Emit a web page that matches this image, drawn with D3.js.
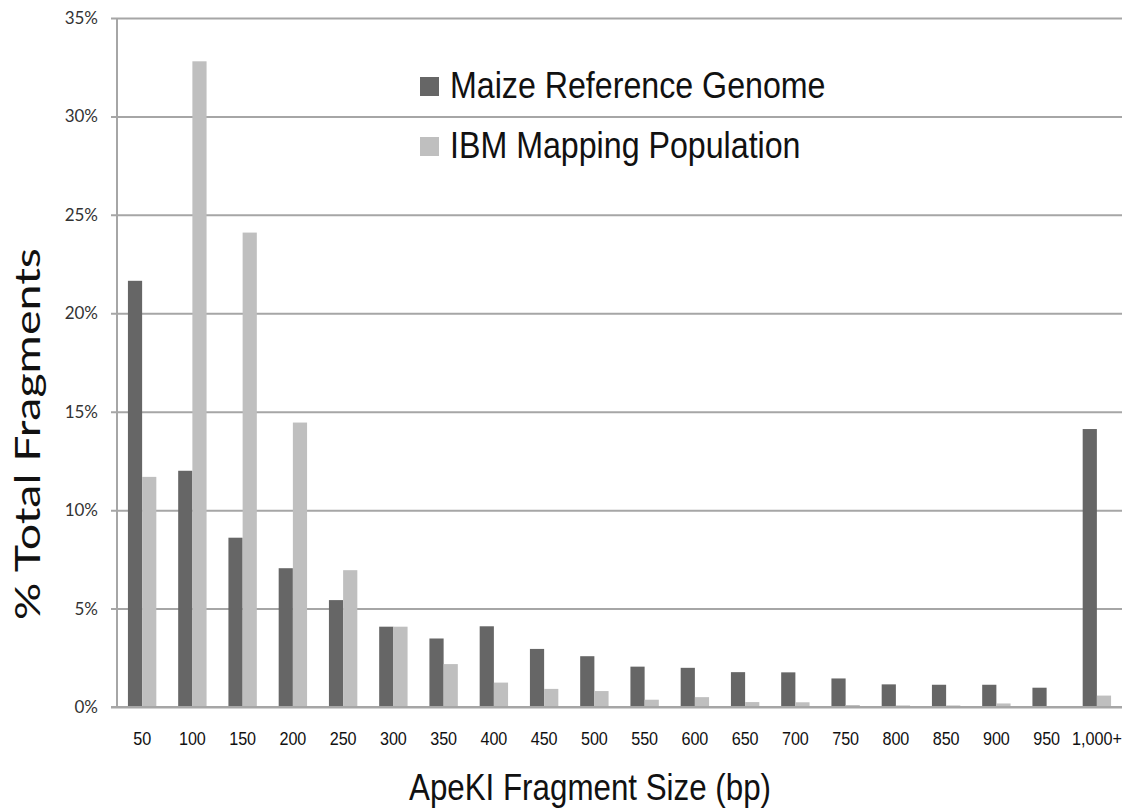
<!DOCTYPE html>
<html>
<head>
<meta charset="utf-8">
<script src="https://cdn.jsdelivr.net/npm/d3@7"></script>
<style>
  html, body { margin: 0; padding: 0; background: #ffffff; }
  svg { display: block; }
</style>
</head>
<body>
<svg id="chart" width="1130" height="809"></svg>
<script>
// ---- data ----
const categories = ["50","100","150","200","250","300","350","400","450","500","550","600","650","700","750","800","850","900","950","1,000+"];
const seriesNames = ["Maize Reference Genome", "IBM Mapping Population"];
const maizeValues = [21.65, 12.0, 8.6, 7.05, 5.43, 4.08, 3.48, 4.1, 2.95, 2.58, 2.05, 1.99, 1.77, 1.76, 1.45, 1.15, 1.13, 1.13, 0.98, 14.12];
const ibmValues   = [11.69, 32.8, 24.1, 14.45, 6.95, 4.08, 2.18, 1.24, 0.92, 0.81, 0.37, 0.5, 0.25, 0.24, 0.1, 0.08, 0.08, 0.18, 0.0, 0.58];
const yTicks = [0, 5, 10, 15, 20, 25, 30, 35];
const seriesColors = ["#666666", "#bfbfbf"];

// ---- layout ----
const svg = d3.select("#chart");
const plotLeft = 117, plotRight = 1122, plotTop = 18, plotBottom = 707;
const sx = 0.87; // horizontal compression of Arial-like text in the reference

const x0 = d3.scaleBand().domain(categories).range([plotLeft, plotRight]).paddingInner(0.435).paddingOuter(0.2175);
const x1 = d3.scaleBand().domain(seriesNames).range([0, x0.bandwidth()]);
const y = d3.scaleLinear().domain([0, 35]).range([plotBottom, plotTop]);

// gridlines
const yAxis = d3.axisLeft(y).tickValues(yTicks).tickSize(-(plotRight - plotLeft)).tickFormat(d => d + "%").tickPadding(19);
const gy = svg.append("g").attr("transform", `translate(${plotLeft},0)`).call(yAxis);
gy.select(".domain").remove();
gy.selectAll(".tick line").attr("stroke", "#a6a6a6").attr("stroke-width", 2).attr("x1", -6);
gy.selectAll(".tick text")
  .attr("fill", "#333333")
  .style("font-family", "Lato, 'Open Sans', sans-serif")
  .style("font-size", "17px");

// y axis line
svg.append("line").attr("x1", plotLeft).attr("x2", plotLeft).attr("y1", plotTop).attr("y2", plotBottom)
  .attr("stroke", "#a6a6a6").attr("stroke-width", 2);

// bars
const rows = categories.map((c, i) => ({ cat: c, vals: [maizeValues[i], ibmValues[i]] }));
const groups = svg.append("g").selectAll("g").data(rows).join("g")
  .attr("transform", d => `translate(${x0(d.cat)},0)`);
groups.selectAll("rect").data(d => d.vals.map((v, k) => ({ k, v }))).join("rect")
  .attr("x", d => x1(seriesNames[d.k]))
  .attr("width", x1.bandwidth())
  .attr("y", d => y(d.v))
  .attr("height", d => plotBottom - y(d.v))
  .attr("fill", d => seriesColors[d.k]);

// x axis baseline redraw on top
svg.append("line").attr("x1", plotLeft - 6).attr("x2", plotRight).attr("y1", plotBottom).attr("y2", plotBottom)
  .attr("stroke", "#a6a6a6").attr("stroke-width", 2);

// x tick labels via axis
const xAxis = d3.axisBottom(x0).tickSize(0).tickPadding(0);
const gx = svg.append("g").attr("transform", `translate(0,${plotBottom})`).call(xAxis);
gx.select(".domain").remove();
gx.selectAll(".tick text")
  .attr("y", 0).attr("dy", null)
  .attr("transform", `translate(0,38) scale(${sx},1)`)
  .attr("fill", "#111111")
  .style("font-family", "'Liberation Sans', Arial, sans-serif")
  .style("font-size", "18.6px");

// x axis title
svg.append("text")
  .attr("transform", `translate(590,800) scale(${sx},1)`)
  .attr("text-anchor", "middle")
  .attr("fill", "#111111")
  .style("font-family", "'Liberation Sans', Arial, sans-serif")
  .style("font-size", "36px")
  .text("ApeKI Fragment Size (bp)");

// y axis title
svg.append("text")
  .attr("transform", `translate(40,434) rotate(-90)`)
  .attr("text-anchor", "middle")
  .attr("fill", "#111111")
  .attr("textLength", 372)
  .attr("lengthAdjust", "spacingAndGlyphs")
  .style("font-family", "Lato, 'Open Sans', sans-serif")
  .style("font-size", "34px")
  .text("% Total Fragments");

// legend
const legend = svg.append("g").selectAll("g").data(seriesNames).join("g")
  .attr("transform", (d, i) => `translate(420,${77 + i * 60})`);
legend.append("rect").attr("width", 19).attr("height", 19)
  .attr("fill", (d, i) => seriesColors[i]);
legend.append("text")
  .attr("transform", `translate(30,21) scale(${sx},1)`)
  .attr("fill", "#111111")
  .style("font-family", "'Liberation Sans', Arial, sans-serif")
  .style("font-size", "37px")
  .text(d => d);
</script>
</body>
</html>
